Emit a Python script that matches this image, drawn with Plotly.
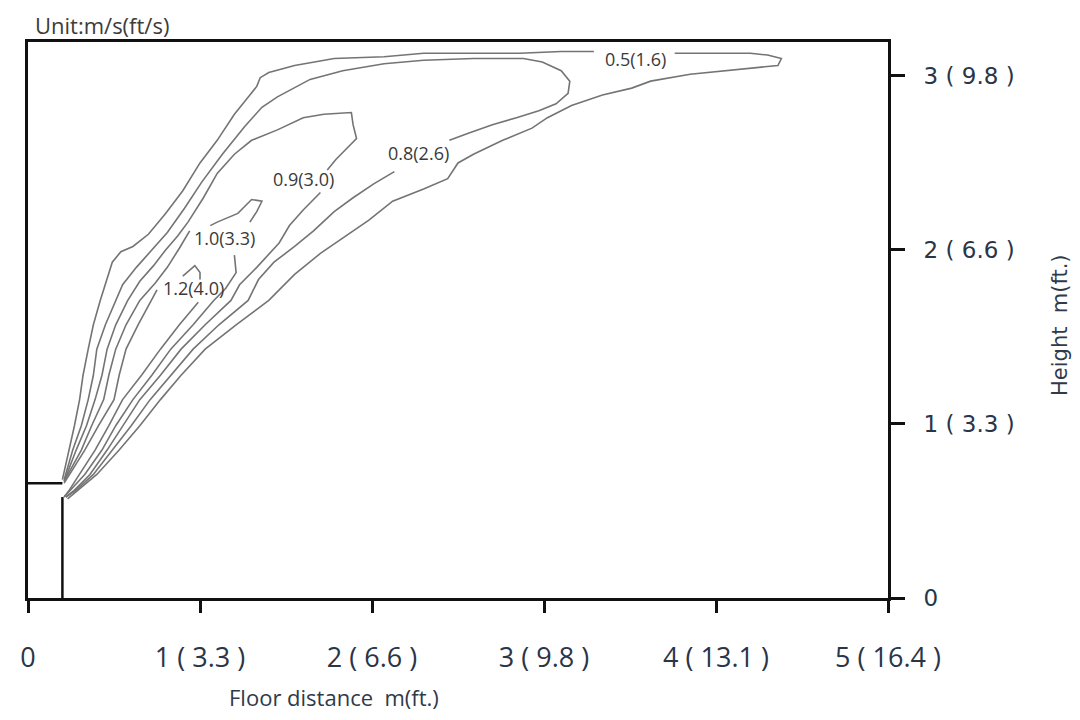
import plotly.graph_objects as go

# ---- Data (metres) ----
x_ticks = [0, 1, 2, 3, 4, 5]
x_tick_labels = ["0", "1 ( 3.3 )", "2 ( 6.6 )", "3 ( 9.8 )", "4 ( 13.1 )", "5 ( 16.4 )"]
y_ticks = [0, 1, 2, 3]
y_tick_labels = ["0", "1 ( 3.3 )", "2 ( 6.6 )", "3 ( 9.8 )"]

# outlet (nozzle) outline
nozzle_x = [0, 0.20, None, 0.20, 0.20]
nozzle_y = [0.66, 0.66, None, 0, 0.58]

# iso-velocity contour 0.5 m/s
c05_x = [0.20, 0.24, 0.27, 0.30, 0.32, 0.35, 0.38, 0.42, 0.45, 0.49, 0.54, 0.61, 0.70, 0.80, 0.90, 1.00,
         1.10, 1.20, 1.29, 1.33, 1.35, 1.40, 1.55, 1.78, 2.07, 2.30, 2.59, 2.86, 3.10, 3.29, None,
         3.76, 4.20, 4.30, 4.38, 4.36, 4.26, 4.03, 3.85, 3.62, 3.51, 3.34, 3.16, 3.02, 2.93, 2.76,
         2.59, 2.50, 2.44, 2.30, 2.12, 1.98, 1.83, 1.70, 1.55, 1.40, 1.21, 1.03, 0.89, 0.77, 0.65,
         0.53, 0.40, 0.29, 0.23]
c05_y = [0.68, 0.85, 0.99, 1.14, 1.28, 1.43, 1.57, 1.71, 1.81, 1.93, 1.99, 2.02, 2.09, 2.21, 2.34, 2.50,
         2.63, 2.78, 2.89, 2.94, 2.99, 3.02, 3.06, 3.10, 3.11, 3.13, 3.13, 3.13, 3.14, 3.14, None,
         3.13, 3.13, 3.12, 3.10, 3.06, 3.05, 3.03, 3.01, 2.97, 2.93, 2.89, 2.83, 2.76, 2.70, 2.63,
         2.55, 2.50, 2.41, 2.35, 2.28, 2.17, 2.07, 1.98, 1.86, 1.71, 1.57, 1.43, 1.28, 1.14, 0.99,
         0.85, 0.71, 0.62, 0.57]

# iso-velocity contour 0.8 m/s
c08_x = [0.21, 0.26, 0.31, 0.35, 0.38, 0.40, 0.45, 0.51, 0.55, 0.63, 0.72, 0.81, 0.91, 1.01, 1.13,
         1.26, 1.36, 1.45, 1.64, 1.83, 2.07, 2.30, 2.59, 2.88, 2.99, 3.10, 3.15, 3.14, 3.07, 2.97,
         2.84, 2.70, 2.56, 2.45, None,
         2.13, 2.01, 1.89, 1.78, 1.66, 1.55, 1.43, 1.34, 1.28, 1.11, 0.96, 0.83, 0.71, 0.60, 0.49,
         0.38, 0.28, 0.22]
c08_y = [0.68, 0.85, 0.99, 1.14, 1.28, 1.43, 1.57, 1.71, 1.80, 1.90, 2.00, 2.10, 2.24, 2.39, 2.55,
         2.71, 2.82, 2.88, 2.98, 3.03, 3.07, 3.09, 3.10, 3.10, 3.08, 3.03, 2.97, 2.90, 2.84, 2.80,
         2.76, 2.72, 2.67, 2.63, None,
         2.45, 2.38, 2.30, 2.22, 2.11, 2.02, 1.93, 1.83, 1.71, 1.57, 1.43, 1.28, 1.14, 0.99, 0.85,
         0.71, 0.62, 0.58]

# iso-velocity contour 0.9 m/s
c09_x = [0.21, 0.28, 0.34, 0.39, 0.43, 0.46, 0.51, 0.58, 0.65, 0.73, 0.80, 0.87, 0.93, 1.02, 1.10,
         1.20, 1.30, 1.45, 1.60, 1.72, 1.88, 1.89, 1.91, 1.88, 1.79, 1.74, None,
         1.70, 1.60, 1.52, 1.46, 1.33, 1.23, 1.18, 1.03, 0.89, 0.77, 0.65, 0.55, 0.46, 0.36, 0.27, 0.22]
c09_y = [0.67, 0.85, 0.99, 1.14, 1.28, 1.43, 1.57, 1.71, 1.82, 1.91, 2.00, 2.08, 2.16, 2.30, 2.44,
         2.55, 2.63, 2.69, 2.76, 2.78, 2.79, 2.72, 2.64, 2.61, 2.52, 2.46, None,
         2.33, 2.23, 2.14, 2.04, 1.90, 1.80, 1.71, 1.57, 1.43, 1.28, 1.14, 0.99, 0.85, 0.71, 0.62, 0.58]

# iso-velocity contour 1.0 m/s
c10_x = [0.21, 0.31, 0.37, 0.44, 0.47, 0.51, 0.57, 0.65, 0.74, 0.81, 0.88, 0.94, None,
         1.06, 1.10, 1.22, 1.30, 1.36, 1.33, 1.29, None,
         1.20, 1.21, 1.15, 1.08, 0.96, 0.83, 0.72, 0.61, 0.51, 0.43, 0.33, 0.25, 0.21]
c10_y = [0.67, 0.85, 0.99, 1.14, 1.28, 1.43, 1.57, 1.71, 1.81, 1.90, 2.01, 2.11, None,
         2.14, 2.16, 2.21, 2.29, 2.28, 2.22, 2.16, None,
         1.97, 1.87, 1.78, 1.71, 1.57, 1.43, 1.28, 1.14, 0.99, 0.85, 0.71, 0.62, 0.58]

# iso-velocity contour 1.2 m/s
c12_x = [0.21, 0.33, 0.41, 0.50, 0.53, 0.57, 0.64, 0.72, 0.75, None,
         0.90, 0.97, 1.00, 1.00, None,
         0.99, 0.88, 0.77, 0.66, 0.55, 0.47, 0.39, 0.30, 0.24, 0.21]
c12_y = [0.66, 0.85, 0.99, 1.14, 1.28, 1.43, 1.57, 1.71, 1.77, None,
         1.85, 1.91, 1.87, 1.83, None,
         1.70, 1.57, 1.43, 1.28, 1.14, 0.99, 0.85, 0.71, 0.62, 0.58]

contours = [
    ("0.5(1.6)", c05_x, c05_y),
    ("0.8(2.6)", c08_x, c08_y),
    ("0.9(3.0)", c09_x, c09_y),
    ("1.0(3.3)", c10_x, c10_y),
    ("1.2(4.0)", c12_x, c12_y),
]

label_texts = ["0.5(1.6)", "0.8(2.6)", "0.9(3.0)", "1.0(3.3)", "1.2(4.0)"]
label_x = [3.53, 2.27, 1.60, 1.14, 0.96]
label_y = [3.10, 2.56, 2.41, 2.07, 1.78]

# ---- Figure ----
fig = go.Figure()
for name, xs, ys in contours:
    fig.add_trace(go.Scatter(x=xs, y=ys, mode="lines", name=name,
                             line=dict(color="#747474", width=1.6),
                             connectgaps=False, hoverinfo="skip", showlegend=False))

fig.add_trace(go.Scatter(x=nozzle_x, y=nozzle_y, mode="lines",
                         line=dict(color="#111111", width=2.5),
                         connectgaps=False, hoverinfo="skip", showlegend=False))

for t, lx, ly in zip(label_texts, label_x, label_y):
    fig.add_annotation(x=lx, y=ly, xref="x", yref="y", text=t, showarrow=False,
                       font=dict(family="Open Sans, sans-serif", size=18, color="#3a3a3a"))

fig.add_annotation(xref="paper", yref="paper", x=0.006, y=1, xanchor="left", yanchor="bottom",
                   yshift=0, text="Unit:m/s(ft/s)", showarrow=False,
                   font=dict(family="Open Sans, sans-serif", size=22, color="#3c3c3c"))
fig.add_annotation(xref="paper", yref="paper", x=(330 - 22) / 866, y=0, yanchor="top",
                   yshift=-82, text="Floor distance&nbsp;&nbsp;m(ft.)", showarrow=False,
                   font=dict(family="Open Sans, sans-serif", size=22, color="#2f3a4a"))
fig.add_annotation(xref="paper", yref="paper", x=1, xshift=186, y=(598 - 325) / 556,
                   textangle=-90, text="Height&nbsp;&nbsp;m(ft.)", showarrow=False,
                   font=dict(family="DejaVu Sans, sans-serif", size=21, color="#2f3a4a"))

fig.update_xaxes(range=[0, 5], tickmode="array", tickvals=x_ticks, ticktext=x_tick_labels,
                 ticks="outside", ticklen=12, tickwidth=2.5, tickcolor="#111111",
                 showline=True, linewidth=3, linecolor="#111111", mirror=True,
                 showgrid=False, zeroline=False, ticklabelstandoff=22,
                 tickfont=dict(family="Open Sans, sans-serif", size=27, color="#2a3548"))
fig.update_yaxes(range=[0, 3.195], side="right", tickmode="array", tickvals=y_ticks,
                 ticktext=y_tick_labels, ticks="outside", ticklen=14, tickwidth=2.5,
                 tickcolor="#111111", showline=True, linewidth=3, linecolor="#111111",
                 mirror=True, showgrid=False, zeroline=False, ticklabelstandoff=14,
                 tickfont=dict(family="DejaVu Sans, sans-serif", size=23, color="#2a3548"))

fig.update_layout(width=1080, height=720, margin=dict(l=14, r=200, t=34, b=130),
                  paper_bgcolor="white", plot_bgcolor="white", showlegend=False)

fig.write_html("out.html")
